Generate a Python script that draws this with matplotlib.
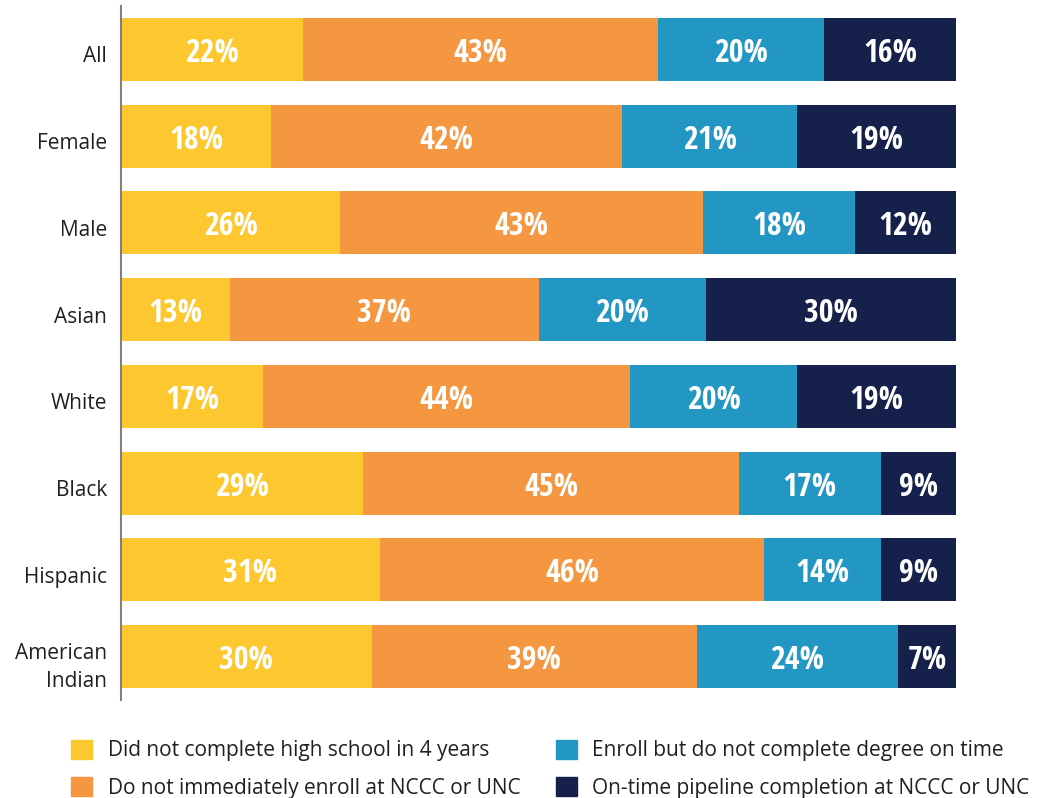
import matplotlib
matplotlib.use('Agg')
import matplotlib.pyplot as plt
import matplotlib.transforms as mtransforms
from matplotlib.patches import Patch
import numpy as np

# stacked shares per group, as printed on the bars (percent)
groups = ['All', 'Female', 'Male', 'Asian', 'White', 'Black', 'Hispanic', 'American\nIndian']
no_hs = [22, 18, 26, 13, 17, 29, 31, 30]
no_enroll = [43, 42, 43, 37, 44, 45, 46, 39]
no_degree = [20, 21, 18, 20, 20, 17, 14, 24]
on_time = [16, 19, 12, 30, 19, 9, 9, 7]

series_names = ['Did not complete high school in 4 years',
                'Do not immediately enroll at NCCC or UNC',
                'Enroll but do not complete degree on time',
                'On-time pipeline completion at NCCC or UNC']
colors = ['#FDC72F', '#F59640', '#2397C3', '#16214B']

label_font = ['Open Sans Condensed', 'Fira Sans Condensed', 'DejaVu Sans']
text_font = ['Open Sans', 'DejaVu Sans']
text_col = '#231F20'

data = np.array([no_hs, no_enroll, no_degree, on_time], dtype=float)
# bars fill the full width, so scale each row to 100
widths = data / data.sum(axis=0) * 100

fig = plt.figure(figsize=(10.37, 7.98), dpi=100)
ax = fig.add_axes([0.1167, 0.1228, 0.922 - 0.1167, 0.9925 - 0.1228])

y = np.arange(len(groups))
left = np.zeros(len(groups))
for i in range(4):
    bars = ax.barh(y, widths[i], left=left, height=0.725, color=colors[i], label=series_names[i])
    anns = ax.bar_label(bars, labels=['%d%%' % v for v in data[i]], label_type='center',
                        color='white', fontsize=23, fontweight='bold', family=label_font)
    for a in anns:
        a.set_va('center_baseline')
    left += widths[i]

ax.set_xlim(0, 100)
ax.set_ylim(7.5, -0.5)
ax.set_yticks(y)
ax.set_yticklabels(groups, fontsize=15, family=text_font, color=text_col, linespacing=1.4)
ax.tick_params(axis='y', length=0, pad=10)
# the group names sit a little below the bar centres
shift = mtransforms.ScaledTranslation(0, -5 / 100, fig.dpi_scale_trans)
for lab in ax.get_yticklabels():
    lab.set_transform(lab.get_transform() + shift)
ax.set_xticks([])
for s in ['top', 'right', 'bottom']:
    ax.spines[s].set_visible(False)
ax.spines['left'].set_color('#808080')
ax.spines['left'].set_linewidth(1.5)

handles = [Patch(color=c) for c in colors]
leg = fig.legend(handles, series_names, loc='upper left', bbox_to_anchor=(0.0687, 0.0727),
                 ncol=2, frameon=False, handlelength=1.0, handleheight=1.0,
                 handletextpad=0.75, columnspacing=1.7, labelspacing=0.75,
                 borderpad=0, borderaxespad=0, prop={'family': text_font, 'size': 15})
for t in leg.get_texts():
    t.set_color(text_col)

plt.savefig('out.png', dpi=100)
